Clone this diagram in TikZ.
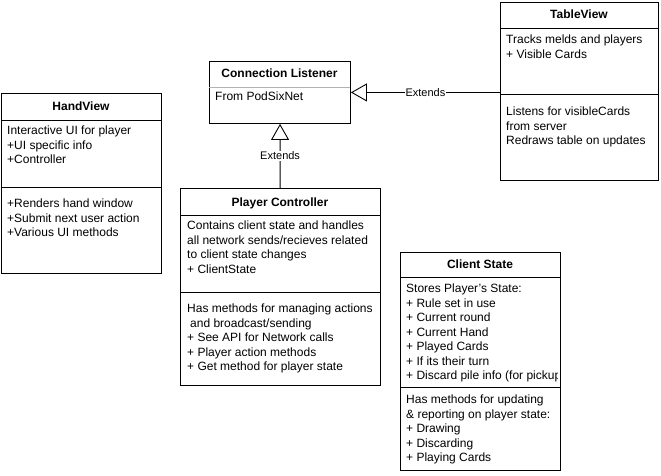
\documentclass[tikz,border=0pt]{standalone}
\usepackage{fontspec}
\setmainfont{Liberation Sans}[Ligatures=ResetAll]
\usetikzlibrary{positioning,arrows.meta}

\begin{document}
\begin{tikzpicture}[x=1pt, y=-1pt,
  cls/.style 2 args={draw, line width=0.9pt, anchor=north west, inner sep=0pt,
              minimum width=#1, minimum height=#2},
  ttl/.style={font=\fontsize{12}{14.5}\selectfont\bfseries, text height=9pt,
              text depth=2.5pt, inner sep=0pt},
  txt/.style={font=\fontsize{12}{14.5}\selectfont, align=left, anchor=north west,
              inner sep=0pt},
  sep/.style={line width=0.9pt},
  ext/.style={-{Triangle[open, length=16pt, width=18pt]}, line width=0.9pt},
  lbl/.style={font=\fontsize{11}{13}\selectfont, fill=white, inner sep=1pt},
]
\useasboundingbox (0,0) rectangle (661,475);

% Connection Listener
\node[cls={141pt}{62pt}] (cl) at (209,61) {};
\node[ttl] (cl-t) at (279.5,74) {Connection Listener};
\draw[sep, gray!60] (209,87) -- (350,87);
\node[txt] (cl-a) at (215,92) {From PodSixNet};

% TableView
\node[cls={158pt}{178pt}] (tv) at (500,2) {};
\node[ttl] (tv-t) at (579,15) {TableView};
\draw[sep] (500,28) -- (658,28);
\draw[sep] (500,94) -- (658,94);
\node[txt] (tv-a) at (506,35) {Tracks melds and players\\+ Visible Cards};
\node[txt] (tv-m) at (506,107) {Listens for visibleCards\\from server\\Redraws table on updates};

% HandView
\node[cls={160pt}{180pt}] (hv) at (1,93) {};
\node[ttl] (hv-t) at (81,107) {HandView};
\draw[sep] (1,120) -- (161,120);
\draw[sep] (1,187) -- (161,187);
\node[txt] (hv-a) at (7,126) {Interactive UI for player\\+UI specific info\\+Controller};
\node[txt] (hv-m) at (7,199) {+Renders hand window\\+Submit next user action\\+Various UI methods};

% Player Controller
\node[cls={200pt}{197pt}] (pc) at (180,188) {};
\node[ttl] (pc-t) at (280,203) {Player Controller};
\draw[sep] (180,215) -- (380,215);
\draw[sep] (180,292) -- (380,292);
\node[txt] (pc-a) at (187,221) {Contains client state and handles\\all network sends/recieves related\\to client state changes\\+ ClientState};
\node[txt] (pc-m) at (187,304) {Has methods for managing actions\\\hspace{3pt}and broadcast/sending\\+ See API for Network calls\\+ Player action methods\\+ Get method for player state};

% Client State
\node[cls={160pt}{218pt}] (cs) at (400,252) {};
\node[ttl] (cs-t) at (480,265) {Client State};
\draw[sep] (400,277) -- (560,277);
\draw[sep] (400,387) -- (560,387);
\begin{scope}
  \clip (400,252) rectangle (557,470);
  \node[txt] (cs-a) at (406,284) {Stores Player's State:\\+ Rule set in use\\+ Current round\\+ Current Hand\\+ Played Cards\\+ If its their turn\\+ Discard pile info (for pickup)};
\end{scope}
\node[txt] (cs-m) at (406,395) {Has methods for updating\\\& reporting on player state:\\+ Drawing\\+ Discarding\\+ Playing Cards};

% Extends
\draw[ext] (tv.west |- cl.east) -- node[lbl] {Extends} (cl.east);
\draw[ext] (pc) -- node[lbl] {Extends} (cl);
\end{tikzpicture}
\end{document}
